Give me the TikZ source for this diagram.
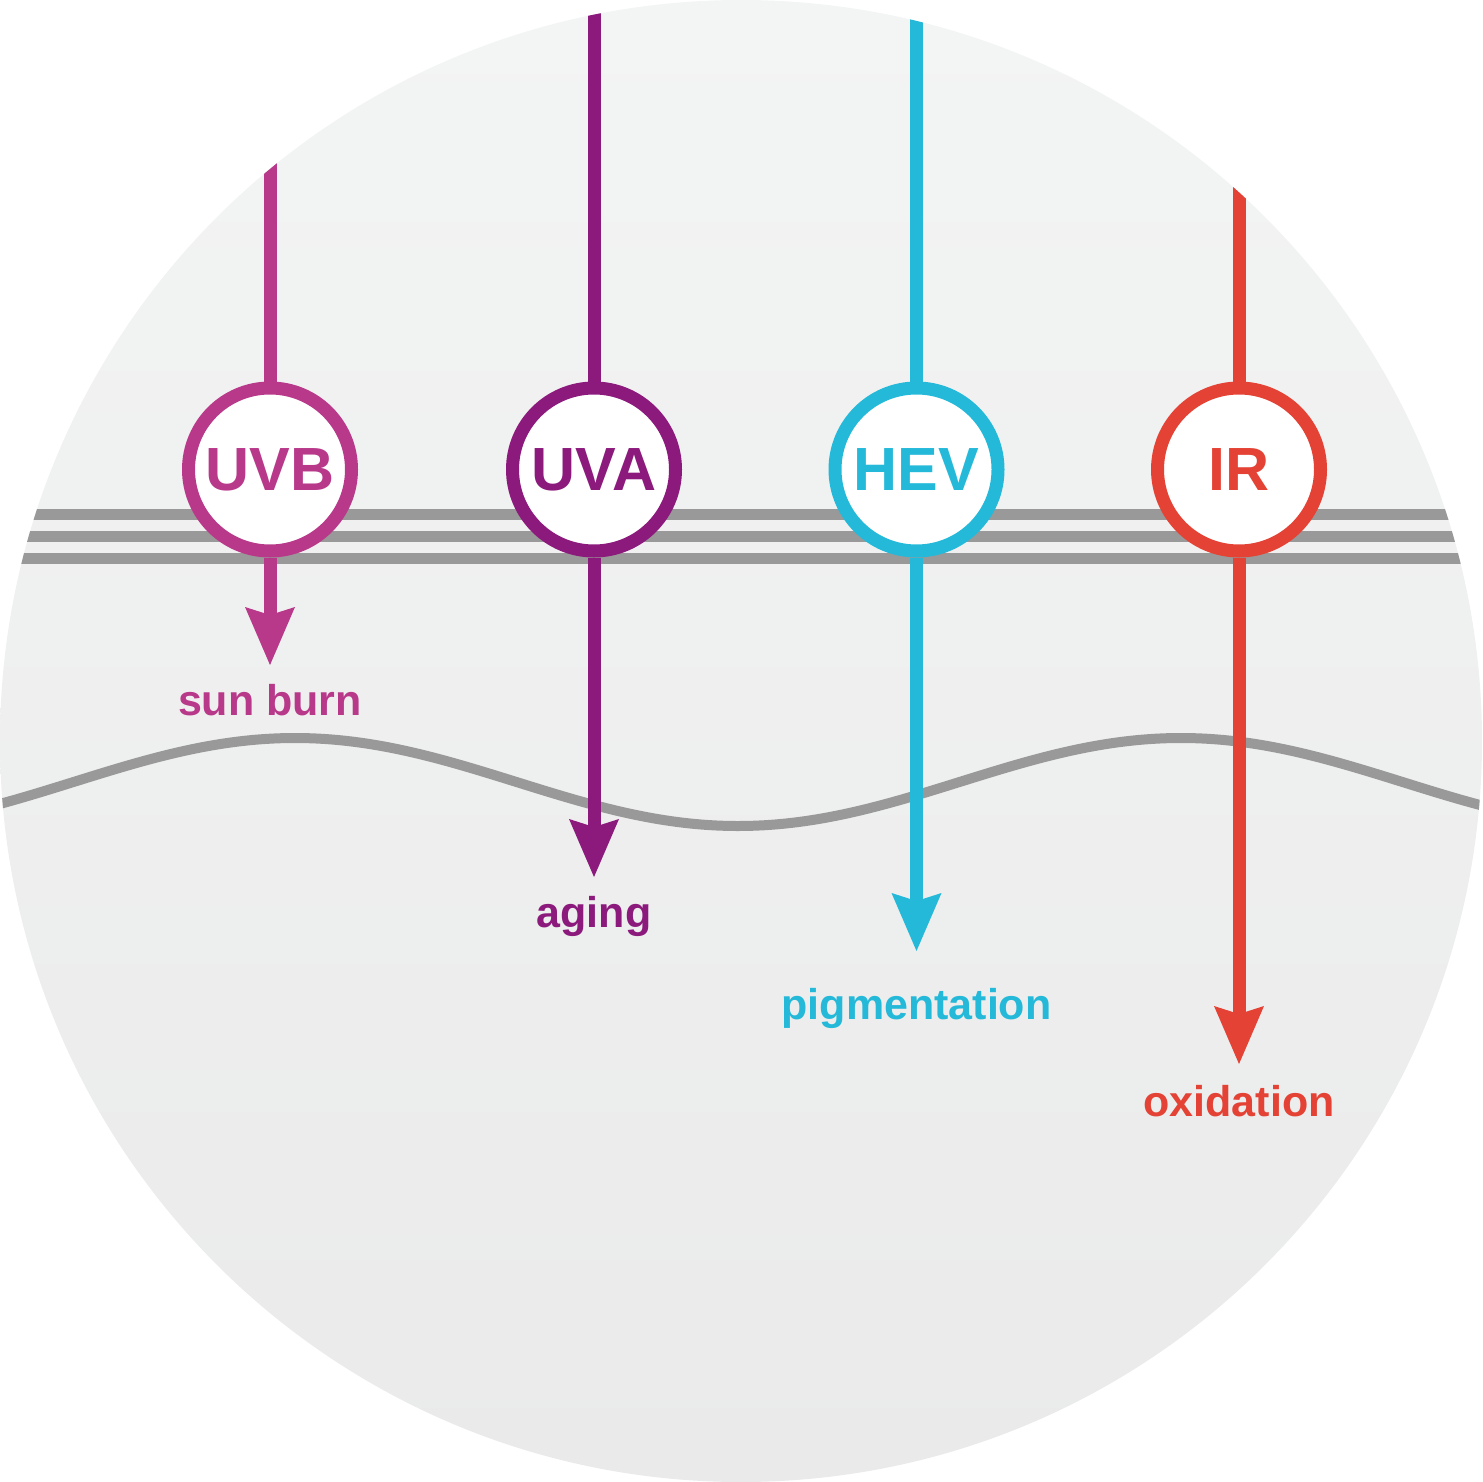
\documentclass[tikz,border=0pt]{standalone}
\usepackage{fontspec}
\setmainfont{Liberation Sans}
\usetikzlibrary{arrows.meta}
\definecolor{bgtop}{HTML}{F3F4F4}
\definecolor{bgbot}{HTML}{EAEAEA}
\definecolor{layergray}{HTML}{999999}
\definecolor{cuvb}{HTML}{B8398A}
\definecolor{cuva}{HTML}{8B1A7C}
\definecolor{chev}{HTML}{25B9D9}
\definecolor{cir}{HTML}{E44235}
\pgfdeclarelayer{skin}
\pgfdeclarelayer{rays}
\pgfsetlayers{skin,rays,main}
\tikzset{
  layer/.style={draw=layergray, line width=11pt},
  wave/.style={draw=layergray, line width=10pt},
  ray/.style={line width=13pt},
  rayarrow/.style={line width=13pt, -{Stealth[length=58pt,width=50pt,inset=8pt,line width=0pt]}},
  badge/.style={circle, draw, fill=white, line width=13pt, minimum size=163pt, inner sep=0pt,
    font=\bfseries\fontsize{61}{61}\selectfont},
  effect/.style={anchor=base, font=\bfseries\fontsize{43}{43}\selectfont}
}
\begin{document}
\begin{tikzpicture}[x=1pt,y=-1pt]
\useasboundingbox (0,0) rectangle (1482,1482);
% badges
\node[badge, draw=cuvb, text=cuvb] (uvb) at (270,469.5) {UVB};
\node[badge, draw=cuva, text=cuva] (uva) at (594,469.5) {UVA};
\node[badge, draw=chev, text=chev] (hev) at (916.5,469.5) {HEV};
\node[badge, draw=cir, text=cir] (ir) at (1239,469.5) {IR};
% free ends
\coordinate (uvbtop) at (270,-10);
\coordinate (uvatop) at (594,-10);
\coordinate (hevtop) at (916.5,-10);
\coordinate (irtop) at (1239,-10);
\coordinate (uvbend) at (270,665);
\coordinate (uvaend) at (594,877);
\coordinate (hevend) at (916.5,951);
\coordinate (irend) at (1239,1064);
% skin background and layers
\begin{pgfonlayer}{skin}
\begin{scope}
\clip (741,741) circle (741);
\shade[top color=bgtop, bottom color=bgbot] (741,741) circle (741);
\draw[layer] (0,514) -- (1482,514);
\draw[layer] (0,536) -- (1482,536);
\draw[layer] (0,558) -- (1482,558);
\draw[wave] plot[domain=-5:1487, samples=150, smooth] (\x,{782-44*cos((\x-295)*0.406321)});
\end{scope}
\end{pgfonlayer}
% rays
\begin{pgfonlayer}{rays}
\begin{scope}
\clip (741,741) circle (741);
\draw[ray, cuvb] (uvbtop) -- (uvb.north);
\draw[ray, cuva] (uvatop) -- (uva.north);
\draw[ray, chev] (hevtop) -- (hev.north);
\draw[ray, cir] (irtop) -- (ir.north);
\draw[rayarrow, cuvb] (uvb.south) -- (uvbend);
\draw[rayarrow, cuva] (uva.south) -- (uvaend);
\draw[rayarrow, chev] (hev.south) -- (hevend);
\draw[rayarrow, cir] (ir.south) -- (irend);
\end{scope}
\end{pgfonlayer}
% effects
\node[effect, text=cuvb] (sunburn) at (270,715) {sun burn};
\node[effect, text=cuva] (aging) at (594,927) {aging};
\node[effect, text=chev] (pigment) at (916.5,1019) {pigmentation};
\node[effect, text=cir] (oxid) at (1239,1116) {oxidation};
\end{tikzpicture}
\end{document}
